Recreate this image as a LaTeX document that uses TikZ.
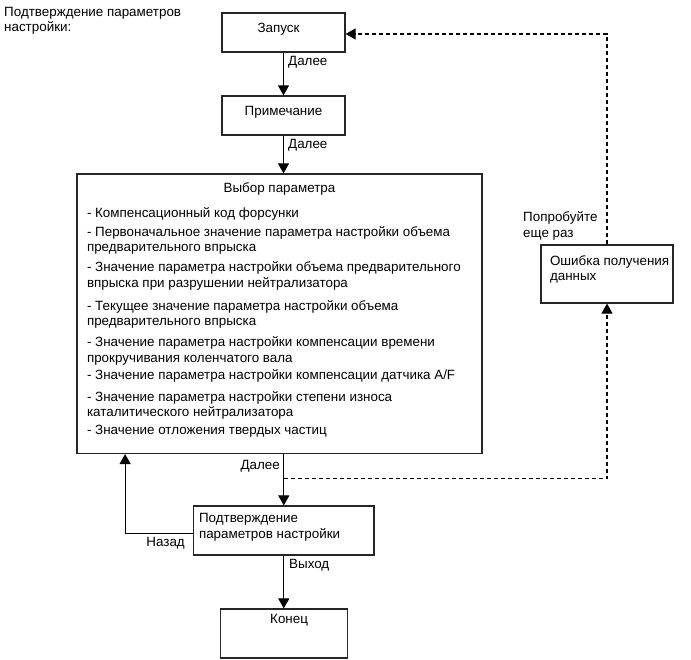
\documentclass[tikz,border=0pt]{standalone}
\usepackage{fontspec}
\setmainfont{Liberation Sans}
\usetikzlibrary{arrows.meta,calc}
\newcommand{\bxt}[4]{\parbox[c][#2][t]{#1}{\vspace*{#3}#4}}
\begin{document}
\begin{tikzpicture}[x=1pt,y=-1pt,
  font=\fontsize{13.4pt}{15.5pt}\selectfont,
  box/.style={draw=black!85, line width=1.2pt, inner sep=0pt, rectangle},
  conn/.style={line width=1.1pt, -{Triangle[length=10pt,width=11pt]}},
  dconn/.style={conn, dash pattern=on 4pt off 3pt},
  lbl/.style={inner sep=0pt, align=left}]
\useasboundingbox (0,0) rectangle (691,660);
% title
\node[lbl, anchor=north west] (title) at (4,6.6) {Подтверждение параметров\\настройки:};
% boxes
\node[box] (zap) at (283.5,32.5) {\bxt{123pt}{39pt}{10.4pt}{\centering Запуск\hspace*{10pt}}};
\node[box] (pri) at (283.5,115.5) {\bxt{123pt}{39pt}{10.4pt}{\centering Примечание}};
\node[box] (big) at (279.5,313.75) {\bxt{405pt}{279.5pt}{8.4pt}{\centering Выбор параметра\par
  \raggedright\leftskip=10pt
  \vspace{10.2pt}- Компенсационный код форсунки\par
  \vspace{2.8pt}- Первоначальное значение параметра настройки объема\\предварительного впрыска\par
  \vspace{4.5pt}- Значение параметра настройки объема предварительного\\впрыска при разрушении нейтрализатора\par
  \vspace{7.5pt}- Текущее значение параметра настройки объема\\предварительного впрыска\par
  \vspace{5.5pt}- Значение параметра настройки компенсации времени\\прокручивания коленчатого вала\par
  \vspace{1.5pt}- Значение параметра настройки компенсации датчика A/F\par
  \vspace{6.5pt}- Значение параметра настройки степени износа\\каталитического нейтрализатора\par
  \vspace{2.5pt}- Значение отложения твердых частиц\par}};
\node[box] (pod) at (283.8,530.5) {\bxt{180.4pt}{49pt}{7.4pt}{\raggedright\leftskip=5.4pt Подтверждение\\параметров настройки}};
\node[box] (kon) at (284.1,633.5) {\bxt{126.8pt}{49pt}{5pt}{\centering\hspace*{10pt}Конец}};
\node[box] (err) at (607,274) {\bxt{132pt}{58pt}{10.4pt}{\raggedright\leftskip=9pt Ошибка получения\\данных}};
% connectors
\draw[conn] (zap.south) -- (pri.north);
\draw[conn] (pri.south) -- (pri.south |- big.north);
\draw[conn] (big.south -| pod.north) -- (pod.north);
\draw[conn] (pod.south) -- (pod.south |- kon.north);
\draw[conn] ([yshift=-3pt]pod.west) -| ([xshift=48.7pt]big.south west);
\path (pod.north) ++(0,-27) coordinate (j);
\draw[dconn] (j) -| (err.south);
\draw[dconn] (err.north) |- ([yshift=-1.5pt]zap.east);
% labels
\node[lbl, anchor=west] (l1) at (288,62.7) {Далее};
\node[lbl, anchor=west] (l2) at (288,145.7) {Далее};
\node[lbl, anchor=east] (l3) at (280,466) {Далее};
\node[lbl, anchor=east] (l4) at (185,543) {Назад};
\node[lbl, anchor=west] (l5) at (289,565) {Выход};
\node[lbl, anchor=north west] (l6) at (523,211.4) {Попробуйте\\еще раз};
\end{tikzpicture}
\end{document}
